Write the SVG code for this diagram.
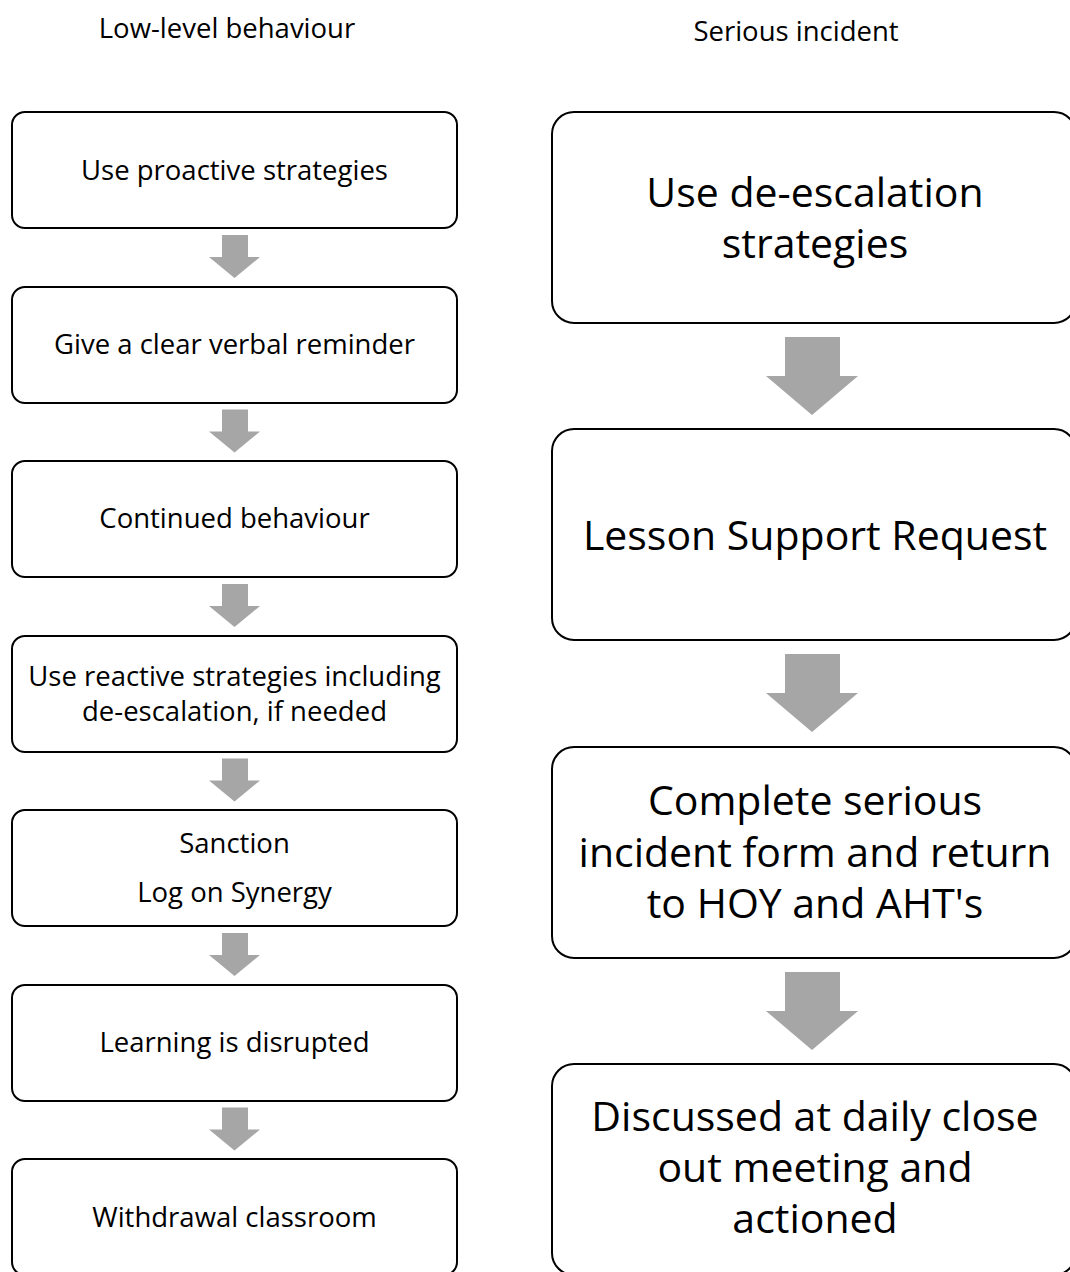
<svg xmlns="http://www.w3.org/2000/svg" width="1070" height="1272" viewBox="0 0 1070 1272">
<style>
  .bx{fill:#ffffff;stroke:#000000;stroke-width:2}
  .ar{fill:#a6a6a6;stroke:none}
  .t{font-family:"Open Sans","Noto Sans","Liberation Sans",sans-serif;fill:#000000;text-anchor:middle}
  .s{font-size:27.5px}
  .l{font-size:41px}
</style>
<rect x="0" y="0" width="1070" height="1272" fill="#ffffff"/>
<g id="headers">
  <text class="t s" x="227" y="38">Low-level behaviour</text>
  <text class="t s" x="796" y="41">Serious incident</text>
</g>
<g id="connectors">
  <polygon class="ar" points="222,235 248,235 248,257 260,257 234.5,278 209,257 222,257"/>
  <polygon class="ar" points="222,409.5 248,409.5 248,431.5 260,431.5 234.5,452.5 209,431.5 222,431.5"/>
  <polygon class="ar" points="222,584 248,584 248,606 260,606 234.5,627 209,606 222,606"/>
  <polygon class="ar" points="222,758.5 248,758.5 248,780.5 260,780.5 234.5,801.5 209,780.5 222,780.5"/>
  <polygon class="ar" points="222,933 248,933 248,955 260,955 234.5,976 209,955 222,955"/>
  <polygon class="ar" points="222,1107.5 248,1107.5 248,1129.5 260,1129.5 234.5,1150.5 209,1129.5 222,1129.5"/>
  <polygon class="ar" points="785,337 840,337 840,376 858,376 812,415 766,376 785,376"/>
  <polygon class="ar" points="785,654 840,654 840,693 858,693 812,732 766,693 785,693"/>
  <polygon class="ar" points="785,972 840,972 840,1011 858,1011 812,1050 766,1011 785,1011"/>
</g>
<g id="n1">
  <rect class="bx" x="12" y="112" width="445" height="116" rx="13"/>
  <text class="t s" x="234.5" y="180">Use proactive strategies</text>
</g>
<g id="n2">
  <rect class="bx" x="12" y="287" width="445" height="116" rx="13"/>
  <text class="t s" x="234.5" y="354">Give a clear verbal reminder</text>
</g>
<g id="n3">
  <rect class="bx" x="12" y="461" width="445" height="116" rx="13"/>
  <text class="t s" x="234.5" y="528">Continued behaviour</text>
</g>
<g id="n4">
  <rect class="bx" x="12" y="636" width="445" height="116" rx="13"/>
  <text class="t s" x="234.5" y="686">Use reactive strategies including</text>
  <text class="t s" x="234.5" y="721">de-escalation, if needed</text>
</g>
<g id="n5">
  <rect class="bx" x="12" y="810" width="445" height="116" rx="13"/>
  <text class="t s" x="234.5" y="853">Sanction</text>
  <text class="t s" x="234.5" y="902">Log on Synergy</text>
</g>
<g id="n6">
  <rect class="bx" x="12" y="985" width="445" height="116" rx="13"/>
  <text class="t s" x="234.5" y="1052">Learning is disrupted</text>
</g>
<g id="n7">
  <rect class="bx" x="12" y="1159" width="445" height="116" rx="13"/>
  <text class="t s" x="234.5" y="1227">Withdrawal classroom</text>
</g>
<g id="r1">
  <rect class="bx" x="552" y="112" width="524" height="211" rx="22"/>
  <text class="t l" x="815" y="206.5">Use de-escalation</text>
  <text class="t l" x="815" y="257.5">strategies</text>
</g>
<g id="r2">
  <rect class="bx" x="552" y="429" width="524" height="211" rx="22"/>
  <text class="t l" x="815" y="549.5">Lesson Support Request</text>
</g>
<g id="r3">
  <rect class="bx" x="552" y="747" width="524" height="211" rx="22"/>
  <text class="t l" x="815" y="814.5">Complete serious</text>
  <text class="t l" x="815" y="866.5">incident form and return</text>
  <text class="t l" x="815" y="917.5">to HOY and AHT's</text>
</g>
<g id="r4">
  <rect class="bx" x="552" y="1064" width="524" height="211" rx="22"/>
  <text class="t l" x="815" y="1130.5">Discussed at daily close</text>
  <text class="t l" x="815" y="1181.5">out meeting and</text>
  <text class="t l" x="815" y="1232.5">actioned</text>
</g>
</svg>
